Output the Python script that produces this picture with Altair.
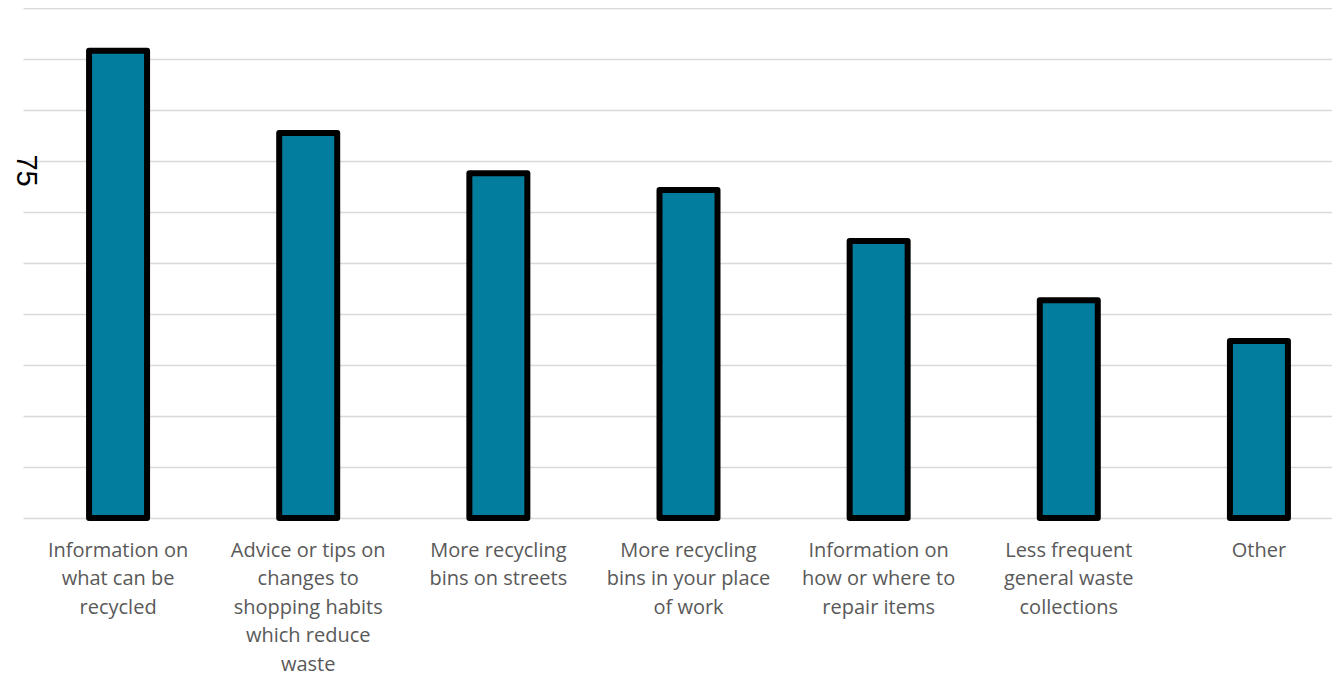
import altair as alt
import pandas as pd

categories = [
    "Information on\nwhat can be\nrecycled",
    "Advice or tips on\nchanges to\nshopping habits\nwhich reduce\nwaste",
    "More recycling\nbins on streets",
    "More recycling\nbins in your place\nof work",
    "Information on\nhow or where to\nrepair items",
    "Less frequent\ngeneral waste\ncollections",
    "Other",
]
values = [9.16, 7.55, 6.76, 6.43, 5.43, 4.27, 3.47]
grid_values = list(range(0, 11))

df = pd.DataFrame({"category": categories, "value": values})

bars = alt.Chart(df).mark_bar(
    width=58, color="#027d9e", stroke="black", strokeWidth=6, strokeJoin="round"
).encode(
    x=alt.X(
        "category:N",
        sort=categories,
        scale=alt.Scale(range=[0, 1331], paddingInner=0, paddingOuter=0),
        axis=alt.Axis(
            title=None,
            labelAngle=0,
            labelExpr="split(datum.label, '\\n')",
            labelFont="Open Sans",
            labelFontSize=20,
            labelColor="#595959",
            labelLineHeight=28.5,
            labelPadding=22,
            labelBaseline="top",
            labelAlign="center",
            ticks=False,
            domain=False,
            labelLimit=0,
        ),
    ),
    y=alt.Y(
        "value:Q",
        scale=alt.Scale(domain=[0, 10], nice=False, zero=True),
        axis=alt.Axis(
            title=None,
            values=grid_values,
            labelExpr="datum.value == 7 ? '75' : ''",
            labelAngle=90,
            labelAlign="center",
            labelBaseline="middle",
            labelFont="Liberation Sans",
            labelFontSize=29,
            labelColor="black",
            labelPadding=-2,
            labelOffset=9,
            ticks=False,
            domain=False,
            grid=True,
            gridColor="#d9d9d9",
            gridWidth=1.5,
        ),
    ),
)

chart = bars.properties(
    width=1309,
    height=510,
    padding={"left": 15, "top": 0, "right": 0, "bottom": 162},
    autosize=alt.AutoSizeParams(type="none"),
).configure_view(stroke=None)

chart.save("out.html", embed_options={"renderer": "svg", "actions": False})
